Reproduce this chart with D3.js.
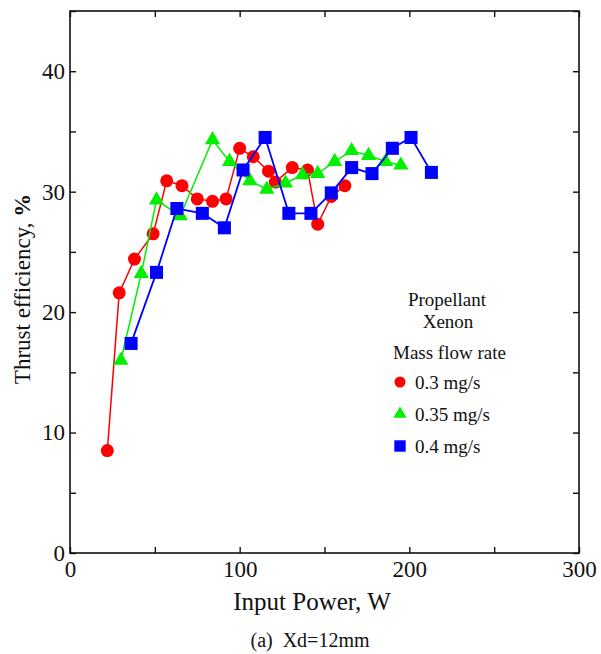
<!DOCTYPE html>
<html>
<head>
<meta charset="utf-8">
<script src="https://cdn.jsdelivr.net/npm/d3@7"></script>
<style>
  body { margin: 0; background: #fff; }
  svg text { font-family: 'Liberation Serif', 'Times New Roman', Times, serif; fill: #111; }
</style>
</head>
<body>
<div class="chart"></div>
<script>
// input power (W) and thrust efficiency (%) per mass flow rate
var red03 = [[22,8.5],[29,21.6],[38,24.4],[49,26.5],[57,30.9],[66,30.5],[75,29.4],[84,29.2],[92,29.4],
             [100,33.6],[108,32.9],[117,31.7],[121,30.8],[131,32.0],[140,31.8],[146,27.3],[154,29.6],[162,30.5]];
var green035 = [[30,16.0],[42,23.2],[51,29.3],[65,28.0],[84,34.3],[94,32.5],[106,30.9],[116,30.2],
                [127,30.7],[137,31.4],[146,31.5],[156,32.5],[166,33.4],[176,33.0],[186,32.5],[195,32.2]];
var blue04 = [[36,17.4],[51,23.3],[63,28.6],[78,28.2],[91,27.0],[102,31.8],[115,34.5],[129,28.2],
              [142,28.2],[154,29.9],[166,32.0],[178,31.5],[190,33.6],[201,34.5],[213,31.6]];
var seriesNames = ["0.3 mg/s", "0.35 mg/s", "0.4 mg/s"];
var xTicks = [0, 50, 100, 150, 200, 250, 300];
var yTicks = [0, 5, 10, 15, 20, 25, 30, 35, 40, 45];

var serif = "'Liberation Serif', 'Times New Roman', Times, serif";

var svg = d3.select(".chart")
            .append("svg")
            .attr("width", 601)
            .attr("height", 654)
            .style("font-family", serif);

var x = d3.scaleLinear().domain([0, 300]).range([70, 579]);
var y = d3.scaleLinear().domain([0, 45]).range([553, 11]);

// frame
svg.append("rect")
   .attr("x", 70).attr("y", 11)
   .attr("width", 509).attr("height", 542)
   .style("fill", "none").style("stroke", "#111").style("stroke-width", 1.6);

function styleAxis(g) {
    g.attr("font-family", null);
    g.select(".domain").remove();
    g.selectAll("line").style("stroke", "#111").style("stroke-width", 1.4);
    g.selectAll("text").style("font-size", "23px").style("font-family", serif);
}

svg.append("g").attr("transform", "translate(0,553)")
   .call(d3.axisBottom(x).tickValues(xTicks).tickSize(-6).tickPadding(8)
        .tickFormat(function(d) { return d % 100 === 0 ? d : ""; }))
   .call(styleAxis);
svg.append("g").attr("transform", "translate(0,11)")
   .call(d3.axisTop(x).tickValues(xTicks).tickSize(-6).tickFormat(""))
   .call(styleAxis);
svg.append("g").attr("transform", "translate(70,0)")
   .call(d3.axisLeft(y).tickValues(yTicks).tickSize(-6).tickPadding(5)
        .tickFormat(function(d) { return d % 10 === 0 && d < 45 ? d : ""; }))
   .call(styleAxis);
svg.append("g").attr("transform", "translate(579,0)")
   .call(d3.axisRight(y).tickValues(yTicks).tickSize(-6).tickFormat(""))
   .call(styleAxis);

// axis titles
svg.append("text")
   .attr("x", 312).attr("y", 610)
   .attr("text-anchor", "middle")
   .style("font-size", "25px")
   .text("Input Power, W");

var yt = svg.append("text")
   .attr("transform", "translate(30,289) rotate(-90)")
   .attr("text-anchor", "middle")
   .style("font-size", "23px");
yt.append("tspan").text("Thrust efficiency, ");
yt.append("tspan").style("font-weight", "bold").text("%");

svg.append("text")
   .attr("x", 310).attr("y", 647)
   .attr("text-anchor", "middle")
   .style("font-size", "20px")
   .style("white-space", "pre")
   .text("(a)  Xd=12mm");

var line = d3.line()
             .x(function(d) { return x(d[0]); })
             .y(function(d) { return y(d[1]); });

var tri = d3.symbol().type(d3.symbolTriangle).size(100);
var sq = d3.symbol().type(d3.symbolSquare).size(170);

// red circles
svg.append("path").datum(red03).attr("d", line)
   .style("fill", "none").style("stroke", "#ff0000").style("stroke-width", 1.5);
svg.selectAll(".red").data(red03).enter().append("circle")
   .attr("class", "red")
   .attr("cx", function(d) { return x(d[0]); })
   .attr("cy", function(d) { return y(d[1]); })
   .attr("r", 6.5)
   .style("fill", "#ff0000");

// green triangles
svg.append("path").datum(green035).attr("d", line)
   .style("fill", "none").style("stroke", "#00f000").style("stroke-width", 1.5);
svg.selectAll(".green").data(green035).enter().append("path")
   .attr("class", "green")
   .attr("d", tri)
   .attr("transform", function(d) { return "translate(" + x(d[0]) + "," + y(d[1]) + ")"; })
   .style("fill", "#00f000");

// blue squares
svg.append("path").datum(blue04).attr("d", line)
   .style("fill", "none").style("stroke", "#0000ff").style("stroke-width", 1.8);
svg.selectAll(".blue").data(blue04).enter().append("path")
   .attr("class", "blue")
   .attr("d", sq)
   .attr("transform", function(d) { return "translate(" + x(d[0]) + "," + y(d[1]) + ")"; })
   .style("fill", "#0000ff");

// legend
svg.append("text").attr("x", 447).attr("y", 306).attr("text-anchor", "middle")
   .style("font-size", "19px").text("Propellant");
svg.append("text").attr("x", 448).attr("y", 328).attr("text-anchor", "middle")
   .style("font-size", "19px").text("Xenon");
svg.append("text").attr("x", 393).attr("y", 359)
   .style("font-size", "19px").text("Mass flow rate");

var legendY = [382, 414, 446];
svg.append("circle").attr("cx", 400).attr("cy", legendY[0]).attr("r", 5.5).style("fill", "#ff0000");
svg.append("path").attr("d", d3.symbol().type(d3.symbolTriangle).size(75))
   .attr("transform", "translate(400," + legendY[1] + ")").style("fill", "#00f000");
svg.append("path").attr("d", d3.symbol().type(d3.symbolSquare).size(130))
   .attr("transform", "translate(400," + legendY[2] + ")").style("fill", "#0000ff");

svg.selectAll(".legtext").data(seriesNames).enter().append("text")
   .attr("class", "legtext")
   .attr("x", 415)
   .attr("y", function(d, i) { return legendY[i] + 7; })
   .style("font-size", "19px")
   .text(function(d) { return d; });
</script>
</body>
</html>
